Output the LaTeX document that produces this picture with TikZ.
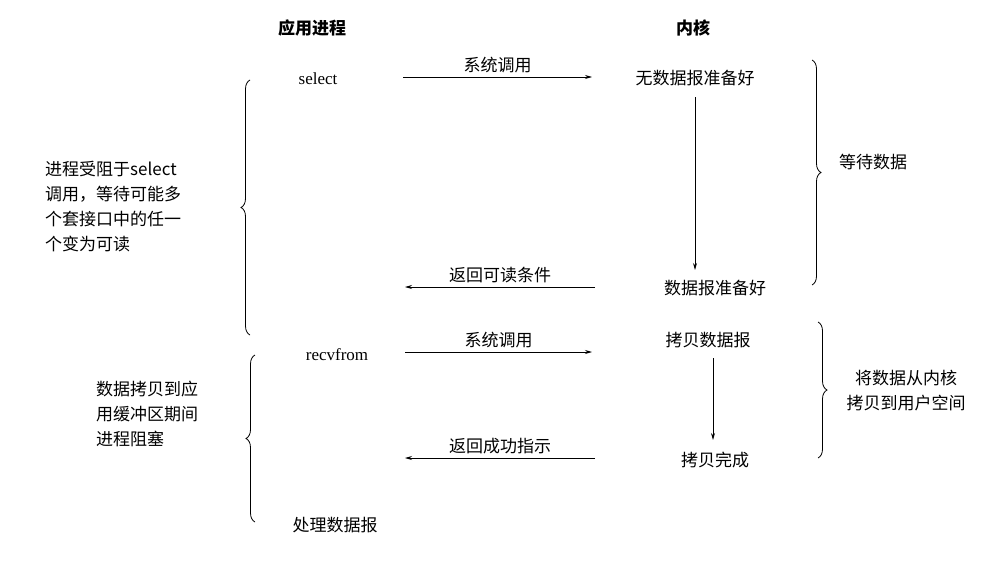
\documentclass[tikz,border=0pt]{standalone}
\usepackage{fontspec}
\setmainfont{Liberation Serif}
\newfontfamily\cjk{Noto Sans CJK SC}
\usetikzlibrary{decorations.pathreplacing,arrows.meta}
\begin{document}
\begin{tikzpicture}[x=1pt,y=-1pt,
  t/.style={font=\cjk\fontsize{17}{25}\selectfont,inner sep=1pt},
  h/.style={font=\cjk\bfseries\fontsize{17}{20}\selectfont},
  lat/.style={font=\fontsize{17}{20}\selectfont},
  arr/.style={-{Stealth[length=7pt,width=4pt]},line width=0.8pt},
  br/.style={decorate,decoration={brace,amplitude=9pt},line width=0.8pt},
  lab/.style={t,align=left,anchor=west}]
\useasboundingbox (0,0) rectangle (1000,573);
\node[h] (app) at (312,28) {应用进程};
\node[h] (ker) at (693,28) {内核};
\node[lat] (sel) at (318,79) {select};
\node[t] (nod) at (695,78) {无数据报准备好};
\node[t] (rdy) at (715,288) {数据报准备好};
\coordinate (a1s) at (403,77); \coordinate (a1e) at (592,77);
\draw[arr] (a1s) -- node[t,above=3pt] (l1) {系统调用} (a1e);
\draw[arr] (695,97) coordinate (v1s) -- (695,270) coordinate (v1e);
\coordinate (a2s) at (595,287); \coordinate (a2e) at (405,287);
\draw[arr] (a2s) -- node[t,above=3pt] (l2) {返回可读条件} (a2e);
\coordinate (b1t) at (812,60); \coordinate (b1b) at (812,285);
\draw[br] (b1t) -- (b1b);
\node[t,anchor=west] (w1) at (838,162) {等待数据};
\coordinate (b2t) at (250,80); \coordinate (b2b) at (250,335);
\draw[br] (b2b) -- (b2t);
\node[lab] (w2) at (44,207) {进程受阻于select\\调用，等待可能多\\个套接口中的任一\\个变为可读};
\node[lat] (rf) at (337,355) {recvfrom};
\node[t] (cp) at (708,340) {拷贝数据报};
\node[t] (done) at (715,460) {拷贝完成};
\coordinate (a3s) at (405,352); \coordinate (a3e) at (592,352);
\draw[arr] (a3s) -- node[t,above=3pt] (l3) {系统调用} (a3e);
\draw[arr] (713,358) coordinate (v2s) -- (713,440) coordinate (v2e);
\coordinate (a4s) at (595,458); \coordinate (a4e) at (405,458);
\draw[arr] (a4s) -- node[t,above=3pt] (l4) {返回成功指示} (a4e);
\coordinate (b3t) at (818,322); \coordinate (b3b) at (818,458);
\draw[br] (b3t) -- (b3b);
\node[t,align=center] (w3) at (906,391) {将数据从内核\\拷贝到用户空间};
\coordinate (b4t) at (255,355); \coordinate (b4b) at (255,522);
\draw[br] (b4b) -- (b4t);
\node[lab] (w4) at (95,414) {数据拷贝到应\\用缓冲区期间\\进程阻塞};
\node[t] (proc) at (335,525) {处理数据报};
\end{tikzpicture}
\end{document}
